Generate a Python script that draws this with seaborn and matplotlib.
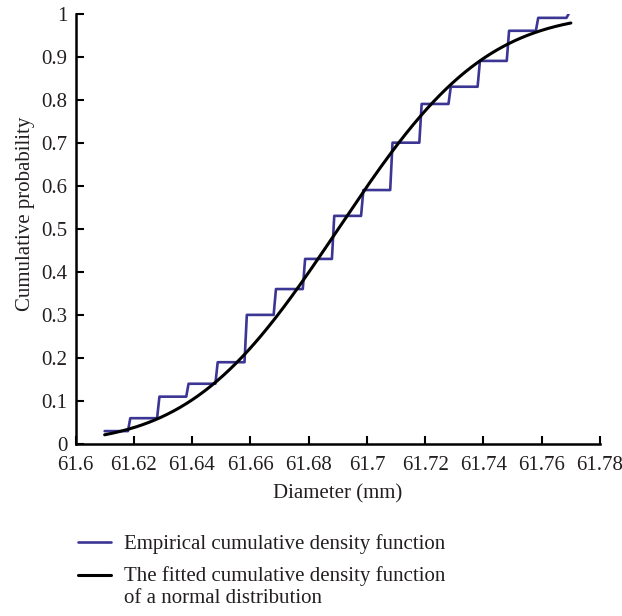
import math
import numpy as np
import pandas as pd
import matplotlib
matplotlib.use("Agg")
import matplotlib.pyplot as plt
import seaborn as sns

# Empirical CDF of measured diameters (mm)
ecdf_start = 61.61
ecdf_end = 61.77
jump_x = [61.618, 61.628, 61.638, 61.648, 61.658, 61.668, 61.678, 61.688,
          61.698, 61.708, 61.718, 61.728, 61.738, 61.748, 61.758, 61.7685]
levels = [0.03, 0.06, 0.11, 0.14, 0.19, 0.30, 0.36, 0.43, 0.53,
          0.59, 0.70, 0.79, 0.83, 0.89, 0.96, 0.99, 1.00]

# Fitted normal distribution parameters
mu = 61.6902
sigma = 0.0396

x_ticks = [61.6, 61.62, 61.64, 61.66, 61.68, 61.7, 61.72, 61.74, 61.76, 61.78]
y_ticks = [0, 0.1, 0.2, 0.3, 0.4, 0.5, 0.6, 0.7, 0.8, 0.9, 1]

BLUE = "#3b3594"
TEXT = "#231f20"
FS = 15.0

# Staircase path with slightly slanted risers
riser = 0.0008
px, py = [ecdf_start], [levels[0]]
for i, xj in enumerate(jump_x):
    px += [xj, xj + riser]
    py += [levels[i], levels[i + 1]]
ecdf_df = pd.DataFrame({"x": px, "y": py})

xs = np.linspace(ecdf_start, ecdf_end, 300)
cdf = [0.5 * (1 + math.erf((v - mu) / (sigma * math.sqrt(2)))) for v in xs]
fit_df = pd.DataFrame({"x": xs, "y": cdf})

sns.set_theme(style="white")
plt.rcParams["font.family"] = ["Liberation Serif", "DejaVu Serif"]
plt.rcParams["text.color"] = TEXT
plt.rcParams["axes.labelcolor"] = TEXT

fig = plt.figure(figsize=(6.22, 6.16), dpi=100)
ax = fig.add_axes([0.1214, 0.2792, 0.8432, 0.6988])

sns.lineplot(data=ecdf_df, x="x", y="y", sort=False, estimator=None,
             color=BLUE, linewidth=1.9, ax=ax,
             label="Empirical cumulative density function")
sns.lineplot(data=fit_df, x="x", y="y", sort=False, estimator=None,
             color="black", linewidth=2.2, ax=ax,
             label="The fitted cumulative density function\nof a normal distribution")

ax.set_xlim(61.6, 61.78)
ax.set_ylim(0, 1)
ax.set_xticks(x_ticks)
ax.set_yticks(y_ticks)
ax.set_xticklabels([f"{v:g}" for v in x_ticks])
ax.set_yticklabels([f"{v:g}" for v in y_ticks])
ax.tick_params(axis="both", direction="in", length=6, width=1.5,
               colors="black", labelcolor=TEXT, labelsize=FS, pad=6,
               bottom=True, left=True)
ax.tick_params(axis="x", pad=8.5)
for side in ("top", "right"):
    ax.spines[side].set_visible(False)
for side in ("left", "bottom"):
    ax.spines[side].set_color("black")
    ax.spines[side].set_linewidth(1.8)

ax.set_xlabel("Diameter (mm)", fontsize=FS, labelpad=7)
ax.set_ylabel("Cumulative probability", fontsize=FS)
ax.yaxis.set_label_coords(-0.078, 0.535)

leg = ax.legend(loc="upper left", bbox_to_anchor=(-0.011, -0.19), frameon=False,
                fontsize=FS, handlelength=1.6, handletextpad=0.62,
                labelspacing=0.6, borderaxespad=0)
leg.get_texts()[1].set_linespacing(1.2)
# Align the second handle with the first line of its label
fit_handle = leg.get_lines()[1]
fit_handle.set_ydata(np.asarray(fit_handle.get_ydata()) + 9.0)

fig.savefig("out.png", dpi=100)
